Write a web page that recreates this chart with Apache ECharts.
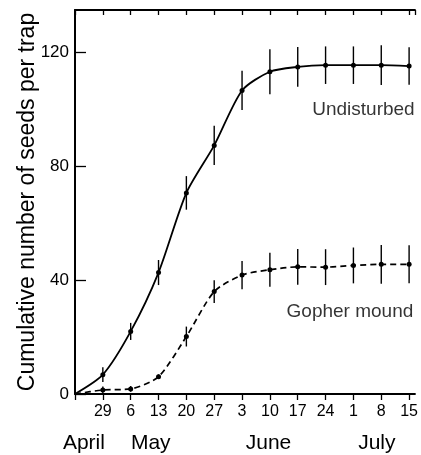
<!DOCTYPE html>
<html>
<head>
<meta charset="utf-8">
<script src="https://cdn.jsdelivr.net/npm/echarts@6/dist/echarts.min.js"></script>
<style>
  html, body { margin: 0; padding: 0; background: #fff; }
  #chart { width: 421px; height: 455px; }
</style>
</head>
<body>
<div id="chart"></div>
<script>
// weeks since 22 April
const weeks = [0, 1, 2, 3, 4, 5, 6, 7, 8, 9, 10, 11, 12];
const dayLabels = ['', '29', '6', '13', '20', '27', '3', '10', '17', '24', '1', '8', '15'];
const months = ['April', 'May', 'June', 'July'];
const monthAt = [0.32, 2.72, 6.95, 10.84];
const yTicks = [0, 40, 80, 120];

const undisturbed = [0, 6.8, 22, 42.7, 70.7, 87.4, 106.7, 113.3, 115, 115.6, 115.6, 115.6, 115.3];
const undisturbedErr = [0, 2.6, 3, 4.4, 5.9, 6.9, 6.9, 7.9, 7, 6.6, 6.6, 7, 6.6];
const gopher = [0, 1.4, 1.8, 6.1, 20.2, 36, 41.8, 43.7, 44.7, 44.6, 45.2, 45.6, 45.6];
const gopherErr = [0, 1.2, 1, 0.8, 3.5, 4, 5, 6, 6.3, 6.3, 6.3, 6.8, 6.7];

const seriesNames = ['Undisturbed', 'Gopher mound'];
const nameAt = [[12.2, 100], [12.15, 28.8]];

const font = 'Liberation Sans, Arial, sans-serif';
const ink = '#000';

const toLine = (vals) => weeks.map((w, i) => (i === 0 ? { value: [w, vals[i]], symbol: 'none' } : [w, vals[i]]));
const toErr = (vals, errs) => weeks.slice(1).map((w, i) => [w, vals[i + 1] - errs[i + 1], vals[i + 1] + errs[i + 1]]);

const errRender = (params, api) => {
  const lo = api.coord([api.value(0), api.value(1)]);
  const hi = api.coord([api.value(0), api.value(2)]);
  return {
    type: 'line',
    shape: { x1: lo[0], y1: lo[1], x2: hi[0], y2: hi[1] },
    style: { stroke: ink, lineWidth: 1.4 },
  };
};

const chart = echarts.init(document.getElementById('chart'));
chart.setOption({
  animation: false,
  grid: { left: 75, right: 0, top: 10, bottom: 61 },
  xAxis: [
    {
      type: 'value', min: 0, max: 12.21, interval: 1, position: 'bottom',
      splitLine: { show: false },
      axisLine: { lineStyle: { color: ink, width: 2 } },
      axisTick: { inside: false, length: 6, lineStyle: { color: ink, width: 1.3 } },
      axisLabel: {
        margin: 10, color: ink, fontFamily: font, fontSize: 16,
        formatter: (v) => dayLabels[Math.round(v)] || '',
      },
    },
    {
      type: 'value', min: 0, max: 12.21, interval: 1, position: 'top',
      splitLine: { show: false },
      axisLine: { lineStyle: { color: ink, width: 2 } },
      axisTick: { inside: true, length: 5, lineStyle: { color: ink, width: 1.3 } },
      axisLabel: { show: false },
    },
    {
      type: 'value', min: 0, max: 12.21, position: 'bottom',
      splitLine: { show: false },
      axisLine: { show: false },
      axisTick: { show: false },
      axisLabel: {
        customValues: monthAt, margin: 39, color: ink, fontFamily: font, fontSize: 21,
        formatter: (v) => months[monthAt.indexOf(v)] || '',
      },
    },
  ],
  yAxis: {
    type: 'value', min: 0, max: 135,
    name: 'Cumulative number of seeds per trap',
    nameLocation: 'middle', nameGap: 36, nameMoveOverlap: false,
    nameTextStyle: { color: ink, fontFamily: font, fontSize: 23 },
    splitLine: { show: false },
    axisLine: { show: true, lineStyle: { color: ink, width: 2 } },
    axisTick: { inside: true, length: 11, customValues: yTicks, lineStyle: { color: ink, width: 1.3 } },
    axisLabel: { customValues: yTicks, margin: 6, color: ink, fontFamily: font, fontSize: 17 },
  },
  series: [
    {
      name: seriesNames[0], type: 'line', smooth: 0.25,
      data: toLine(undisturbed),
      symbol: 'circle', symbolSize: 5,
      itemStyle: { color: ink },
      lineStyle: { color: ink, width: 1.8 },
    },
    {
      name: seriesNames[1], type: 'line', smooth: 0.25,
      data: toLine(gopher),
      symbol: 'circle', symbolSize: 5,
      itemStyle: { color: ink },
      lineStyle: { color: ink, width: 1.7, type: [6, 4] },
    },
    { type: 'custom', renderItem: errRender, data: toErr(undisturbed, undisturbedErr), z: 3 },
    { type: 'custom', renderItem: errRender, data: toErr(gopher, gopherErr), z: 3 },
    {
      type: 'scatter', symbolSize: 0, clip: false,
      data: nameAt.map((p, i) => ({ value: p, name: seriesNames[i] })),
      label: {
        show: true, position: 'left', distance: 0, formatter: '{b}',
        color: ink, fontFamily: font, fontSize: 19,
      },
    },
  ],
});
</script>
</body>
</html>
